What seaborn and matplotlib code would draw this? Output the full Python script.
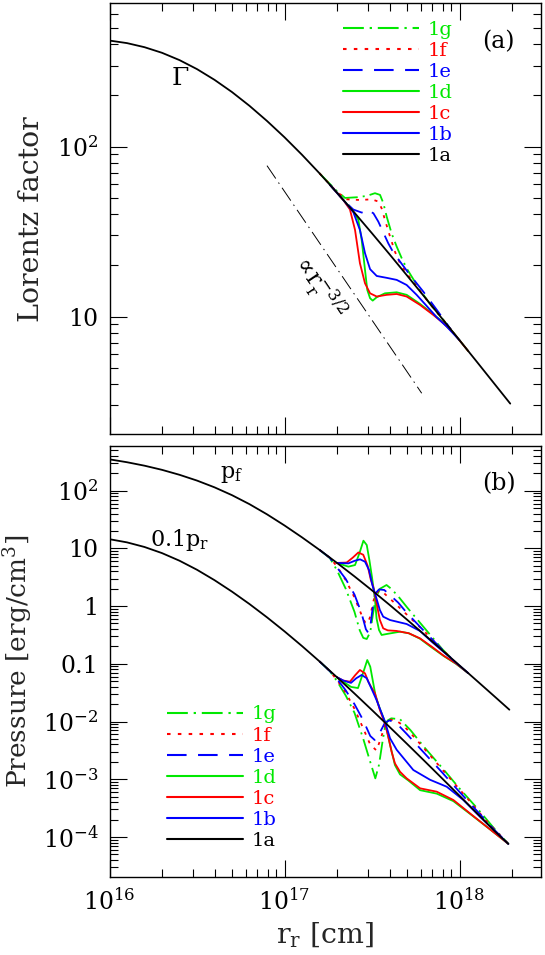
import numpy as np
import matplotlib.pyplot as plt
import seaborn as sns
from matplotlib.lines import Line2D
from matplotlib.ticker import FixedLocator, FixedFormatter, LogLocator, NullFormatter

# values, all as log10; x = log10(r_r / cm)

# (a) Lorentz factor
gam_1a_x = [16.0, 16.1, 16.2, 16.3, 16.4, 16.5, 16.6, 16.7, 16.8, 16.9, 17.0, 17.1,
            17.2, 17.3, 17.4, 17.5, 17.6, 17.7, 17.8, 17.9, 18.0, 18.1, 18.2, 18.29]
gam_1a_y = [2.624, 2.609, 2.585, 2.552, 2.509, 2.456, 2.393, 2.321, 2.24, 2.151, 2.055, 1.952,
            1.843, 1.729, 1.611, 1.49, 1.367, 1.242, 1.116, 0.989, 0.861, 0.733, 0.604, 0.488]
gam_1b_x = [17.26, 17.346, 17.393, 17.431, 17.46, 17.489, 17.527, 17.584, 17.641, 17.698,
            17.755, 17.812, 17.87, 17.927, 18.0]
gam_1b_y = [1.775, 1.674, 1.615, 1.51, 1.373, 1.279, 1.239, 1.228, 1.216, 1.186,
            1.128, 1.063, 0.996, 0.941, 0.861]
gam_1c_x = [17.26, 17.336, 17.374, 17.403, 17.431, 17.46, 17.489, 17.527, 17.584, 17.641,
            17.698, 17.774, 17.85, 17.908, 17.965, 18.05]
gam_1c_y = [1.775, 1.686, 1.63, 1.51, 1.314, 1.196, 1.137, 1.118, 1.128, 1.133,
            1.118, 1.069, 1.01, 0.961, 0.905, 0.797]
gam_1d_x = [17.26, 17.336, 17.393, 17.422, 17.441, 17.46, 17.473, 17.489, 17.504, 17.527,
            17.574, 17.641, 17.698, 17.774, 17.85, 17.908, 17.965, 18.05]
gam_1d_y = [1.775, 1.686, 1.617, 1.569, 1.451, 1.275, 1.157, 1.108, 1.094, 1.114,
            1.137, 1.143, 1.128, 1.075, 1.014, 0.965, 0.906, 0.797]
gam_1e_x = [17.26, 17.336, 17.393, 17.441, 17.479, 17.508, 17.536, 17.565, 17.593, 17.622,
            17.66, 17.717, 17.793, 17.87, 17.95]
gam_1e_y = [1.775, 1.686, 1.63, 1.612, 1.624, 1.608, 1.559, 1.494, 1.431, 1.377,
            1.324, 1.245, 1.147, 1.04, 0.925]
gam_1f_x = [17.2, 17.298, 17.355, 17.431, 17.498, 17.536, 17.555, 17.574, 17.603, 17.631,
            17.66, 17.698, 17.755, 17.831, 17.9, 17.95]
gam_1f_y = [1.843, 1.735, 1.69, 1.686, 1.69, 1.677, 1.637, 1.569, 1.471, 1.382,
            1.314, 1.255, 1.177, 1.075, 0.99, 0.925]
gam_1g_x = [17.2, 17.298, 17.346, 17.412, 17.47, 17.517, 17.546, 17.565, 17.584, 17.612,
            17.641, 17.67, 17.698, 17.727, 17.774, 17.831, 17.9, 17.95]
gam_1g_y = [1.843, 1.74, 1.698, 1.702, 1.71, 1.726, 1.716, 1.667, 1.588, 1.49,
            1.412, 1.343, 1.284, 1.235, 1.157, 1.075, 0.99, 0.925]
# r^-3/2 guide line
guide_x = [16.9, 17.784]
guide_y = [1.888, 0.549]

# (b) pressure p_f
pf_1a_x = [16.0, 16.1, 16.2, 16.3, 16.4, 16.5, 16.6, 16.7, 16.8, 16.9, 17.0, 17.1,
           17.2, 17.3, 17.4, 17.5, 17.6, 17.7, 17.8, 17.9, 18.0, 18.1, 18.2, 18.285]
pf_1a_y = [2.544, 2.494, 2.434, 2.362, 2.276, 2.176, 2.059, 1.923, 1.767, 1.591, 1.398, 1.192,
           0.975, 0.749, 0.515, 0.273, 0.023, -0.234, -0.496, -0.761, -1.028, -1.296,
           -1.565, -1.795]
pf_1b_x = [17.3, 17.365, 17.403, 17.432, 17.46, 17.483, 17.502, 17.517, 17.545, 17.564,
           17.603, 17.698, 17.774, 17.841, 17.908, 17.98, 18.05]
pf_1b_y = [0.749, 0.741, 0.788, 0.811, 0.77, 0.626, 0.366, 0.221, -0.068, -0.183,
           -0.241, -0.31, -0.43, -0.616, -0.79, -0.98, -1.162]
pf_1c_x = [17.3, 17.355, 17.39, 17.422, 17.45, 17.475, 17.493, 17.507, 17.526, 17.545,
           17.564, 17.59, 17.64, 17.71, 17.774, 17.84, 17.91, 17.98, 18.05]
pf_1c_y = [0.749, 0.755, 0.84, 0.93, 0.89, 0.70, 0.46, 0.337, 0.05, -0.24,
           -0.385, -0.42, -0.43, -0.47, -0.558, -0.70, -0.86, -0.995, -1.162]
pf_1d_x = [17.3, 17.365, 17.403, 17.428, 17.451, 17.47, 17.485, 17.5, 17.517, 17.526,
           17.54, 17.555, 17.584, 17.66, 17.71, 17.774, 17.84, 17.91, 17.98, 18.05]
pf_1d_y = [0.749, 0.684, 0.712, 0.915, 1.134, 1.059, 0.799, 0.50, 0.12, -0.212,
           -0.414, -0.5, -0.483, -0.443, -0.47, -0.564, -0.714, -0.865, -1.0, -1.162]
pf_1e_x = [17.2, 17.26, 17.3, 17.35, 17.4, 17.44, 17.465, 17.478, 17.49, 17.5,
           17.517, 17.54, 17.57, 17.6, 17.65, 17.7, 17.8, 17.9, 17.95]
pf_1e_y = [0.975, 0.835, 0.67, 0.47, 0.20, -0.12, -0.40, -0.46, -0.36, -0.12,
           0.21, 0.29, 0.28, 0.2, 0.06, -0.12, -0.44, -0.75, -0.894]
pf_1f_x = [17.2, 17.26, 17.3, 17.35, 17.4, 17.44, 17.46, 17.475, 17.49, 17.505,
           17.52, 17.545, 17.57, 17.62, 17.7, 17.8, 17.9, 17.95]
pf_1f_y = [0.975, 0.835, 0.69, 0.45, 0.15, -0.15, -0.28, -0.30, -0.18, 0.05,
           0.22, 0.27, 0.22, 0.08, -0.15, -0.44, -0.75, -0.894]
pf_1g_x = [17.2, 17.26, 17.3, 17.35, 17.4, 17.43, 17.45, 17.47, 17.49, 17.505, 17.52,
           17.545, 17.583, 17.61, 17.65, 17.7, 17.75, 17.8, 17.85, 17.9, 17.95]
pf_1g_y = [0.975, 0.83, 0.62, 0.30, -0.10, -0.42, -0.55, -0.57, -0.45, -0.15, 0.12,
           0.30, 0.366, 0.30, 0.17, -0.02, -0.2, -0.38, -0.56, -0.74, -0.894]

# (b) pressure 0.1 p_r
pr_1a_x = [16.0, 16.1, 16.2, 16.3, 16.4, 16.5, 16.6, 16.7, 16.8, 16.9, 17.0, 17.1,
           17.2, 17.3, 17.4, 17.5, 17.6, 17.7, 17.8, 17.9, 18.0, 18.1, 18.2, 18.279]
pr_1a_y = [1.16, 1.105, 1.025, 0.919, 0.787, 0.63, 0.45, 0.251, 0.036, -0.194, -0.437, -0.692,
           -0.958, -1.233, -1.515, -1.802, -2.093, -2.387, -2.684, -2.984, -3.286, -3.59,
           -3.895, -4.12]
pr_1b_x = [17.3, 17.336, 17.38, 17.41, 17.441, 17.47, 17.5, 17.526, 17.574, 17.603,
           17.641, 17.698, 17.736, 17.832, 17.927, 18.022, 18.117, 18.213, 18.279]
pr_1b_y = [-1.233, -1.29, -1.33, -1.25, -1.193, -1.25, -1.45, -1.628, -2.003, -2.29,
           -2.49, -2.70, -2.84, -3.01, -3.13, -3.36, -3.65, -3.93, -4.12]
pr_1c_x = [17.3, 17.336, 17.374, 17.403, 17.431, 17.46, 17.479, 17.495, 17.517, 17.545,
           17.574, 17.593, 17.612, 17.631, 17.66, 17.698, 17.775, 17.87, 17.965, 18.06,
           18.175, 18.279]
pr_1c_y = [-1.233, -1.29, -1.31, -1.20, -1.107, -1.165, -1.31, -1.40, -1.512, -1.801,
           -2.032, -2.263, -2.523, -2.725, -2.87, -2.985, -3.158, -3.216, -3.36, -3.592,
           -3.87, -4.12]
pr_1d_x = [17.3, 17.336, 17.38, 17.42, 17.45, 17.473, 17.49, 17.505, 17.52, 17.545,
           17.574, 17.603, 17.631, 17.66, 17.707, 17.775, 17.87, 17.965, 18.06, 18.175, 18.279]
pr_1d_y = [-1.233, -1.31, -1.40, -1.42, -1.15, -0.934, -1.05, -1.30, -1.55, -1.78,
           -2.003, -2.40, -2.754, -2.916, -3.02, -3.19, -3.25, -3.38, -3.60, -3.87, -4.12]
pr_1e_x = [17.2, 17.26, 17.3, 17.35, 17.4, 17.45, 17.49, 17.515, 17.54, 17.574,
           17.6, 17.64, 17.7, 17.8, 17.9, 18.0, 18.1, 18.2, 18.279]
pr_1e_y = [-0.958, -1.13, -1.26, -1.46, -1.70, -1.98, -2.25, -2.32, -2.22, -2.02,
           -1.98, -2.03, -2.22, -2.55, -2.88, -3.22, -3.55, -3.88, -4.12]
pr_1f_x = [17.2, 17.26, 17.3, 17.35, 17.4, 17.45, 17.49, 17.525, 17.55, 17.574,
           17.6, 17.63, 17.68, 17.75, 17.85, 17.95, 18.05, 18.15, 18.279]
pr_1f_y = [-0.958, -1.13, -1.28, -1.50, -1.78, -2.12, -2.40, -2.50, -2.3, -2.05,
           -1.97, -1.97, -2.07, -2.30, -2.65, -3.0, -3.35, -3.71, -4.12]
pr_1g_x = [17.2, 17.26, 17.3, 17.35, 17.4, 17.45, 17.49, 17.519, 17.54, 17.56, 17.574,
           17.59, 17.61, 17.66, 17.72, 17.8, 17.9, 18.0, 18.1, 18.2, 18.279]
pr_1g_y = [-0.958, -1.13, -1.30, -1.55, -1.85, -2.3, -2.7, -2.985, -2.75, -2.35, -2.1,
           -1.98, -1.945, -1.96, -2.15, -2.45, -2.8, -3.16, -3.5, -3.86, -4.12]

models = ["1a", "1b", "1c", "1d", "1e", "1f", "1g"]
GREEN, RED, BLUE = "#00e800", "#ff0000", "#0000ff"
colors = {"1a": "black", "1b": BLUE, "1c": RED, "1d": GREEN,
          "1e": BLUE, "1f": RED, "1g": GREEN}
styles = {"1a": "-", "1b": "-", "1c": "-", "1d": "-",
          "1e": (0, (9.4, 5.5)), "1f": (0, (1.7, 3.5)), "1g": (0, (10, 2.8, 1.1, 2.8))}

gamma = {"1a": (gam_1a_x, gam_1a_y), "1b": (gam_1b_x, gam_1b_y), "1c": (gam_1c_x, gam_1c_y),
         "1d": (gam_1d_x, gam_1d_y), "1e": (gam_1e_x, gam_1e_y), "1f": (gam_1f_x, gam_1f_y),
         "1g": (gam_1g_x, gam_1g_y)}
p_f = {"1a": (pf_1a_x, pf_1a_y), "1b": (pf_1b_x, pf_1b_y), "1c": (pf_1c_x, pf_1c_y),
       "1d": (pf_1d_x, pf_1d_y), "1e": (pf_1e_x, pf_1e_y), "1f": (pf_1f_x, pf_1f_y),
       "1g": (pf_1g_x, pf_1g_y)}
p_r = {"1a": (pr_1a_x, pr_1a_y), "1b": (pr_1b_x, pr_1b_y), "1c": (pr_1c_x, pr_1c_y),
       "1d": (pr_1d_x, pr_1d_y), "1e": (pr_1e_x, pr_1e_y), "1f": (pr_1f_x, pr_1f_y),
       "1g": (pr_1g_x, pr_1g_y)}

sns.set_style("ticks", rc={"axes.edgecolor": "black", "text.color": "black",
                           "xtick.color": "black", "ytick.color": "black"})
plt.rcParams["font.family"] = ["DejaVu Serif"]
plt.rcParams["mathtext.fontset"] = "dejavuserif"

LW = 1.3


def draw(ax, curves):
    # colored runs first, the black reference run on top
    for m in models[::-1]:
        lx, ly = curves[m]
        sns.lineplot(x=10 ** np.array(lx), y=10 ** np.array(ly), ax=ax, color=colors[m],
                     linestyle=styles[m], lw=LW, zorder=3 if m == "1a" else 2)


def exp_label(v):
    e = int(round(np.log10(v)))
    special = {0: "1", 1: "10", -1: "0.1"}
    return special.get(e, r"$\mathdefault{10^{%d}}$" % e)


def style_axes(ax, ymajor):
    ax.set_xscale("log")
    ax.set_yscale("log")
    ax.set_xlim(1e16, 10 ** 18.464)
    ax.xaxis.set_major_locator(FixedLocator([1e16, 1e17, 1e18]))
    ax.xaxis.set_minor_locator(LogLocator(base=10, subs=np.arange(2, 10), numticks=100))
    ax.yaxis.set_major_locator(FixedLocator(ymajor))
    ax.yaxis.set_major_formatter(FixedFormatter([exp_label(v) for v in ymajor]))
    ax.yaxis.set_minor_locator(LogLocator(base=10, subs=np.arange(2, 10), numticks=100))
    ax.yaxis.set_minor_formatter(NullFormatter())
    ax.xaxis.set_minor_formatter(NullFormatter())
    ax.tick_params(which="both", direction="in", top=True, right=True, width=0.8,
                   colors="black", labelsize=17)
    ax.tick_params(which="major", length=12, pad=8)
    ax.tick_params(which="minor", length=6)
    for s in ax.spines.values():
        s.set_linewidth(1.0)
        s.set_color("black")


W, H = 545, 955
fig = plt.figure(figsize=(W / 100, H / 100), dpi=100)
ax_a = fig.add_axes([109.5 / W, 1 - 434.3 / H, 431.2 / W, 431.0 / H])
ax_b = fig.add_axes([109.5 / W, 1 - 877 / H, 431.2 / W, 431.0 / H])

for ax in (ax_a, ax_b):
    ax.set_xscale("log")
    ax.set_yscale("log")

# panel (a)
draw(ax_a, gamma)
sns.lineplot(x=10 ** np.array(guide_x), y=10 ** np.array(guide_y), ax=ax_a, color="black",
             lw=0.7, linestyle=(0, (16, 5, 1.5, 5)))
style_axes(ax_a, [10, 100])
ax_a.set_ylim(2.03, 697)
ax_a.set_xticklabels([])
ax_a.set_xlabel("")
ax_a.set_ylabel("Lorentz factor", fontsize=20.5)
ax_a.yaxis.set_label_coords(-0.15, 0.5)
ax_a.text(10 ** 16.403, 10 ** 2.402, "Γ", fontsize=18, ha="center", va="center")
ax_a.text(10 ** 17.19, 10 ** 1.18, r"$\propto\!\mathdefault{r_r^{-3/2}}$", fontsize=17,
          rotation=-56, ha="center", va="center", rotation_mode="anchor")
ax_a.text(0.901, 0.911, "(a)", transform=ax_a.transAxes, fontsize=17, ha="center", va="center")

# panel (b)
draw(ax_b, p_f)
draw(ax_b, p_r)
style_axes(ax_b, [1e-4, 1e-3, 1e-2, 0.1, 1, 10, 100])
ax_b.set_ylim(2.02e-5, 596)
ax_b.xaxis.set_major_formatter(FixedFormatter([exp_label(v) for v in [1e16, 1e17, 1e18]]))
ax_b.set_ylabel("Pressure [erg/cm$^\\mathdefault{3}$]", fontsize=19)
ax_b.yaxis.set_label_coords(-0.172, 0.5)
ax_b.set_xlabel(r"r$_\mathdefault{r}$ [cm]", fontsize=20.5)
ax_b.xaxis.set_label_coords(0.5, -0.1)
ax_b.text(10 ** 16.7, 10 ** 2.289, r"p$_\mathdefault{f}$", fontsize=16, ha="center", va="center")
ax_b.text(10 ** 16.403, 10 ** 1.146, r"0.1p$_\mathdefault{r}$", fontsize=16,
          ha="center", va="center")
ax_b.text(0.903, 0.913, "(b)", transform=ax_b.transAxes, fontsize=17, ha="center", va="center")

# legends, 1g on top
order = models[::-1]
handles = [Line2D([], [], color=colors[m], linestyle=styles[m], lw=1.5) for m in order]
leg_kw = dict(frameon=False, fontsize=14, handlelength=3.9, handletextpad=0.45,
              labelspacing=0.16, borderpad=0, borderaxespad=0, labelcolor="linecolor",
              loc="upper left")
ax_a.legend(handles, order, bbox_to_anchor=(0.541, 0.960), **leg_kw)
ax_b.legend(handles, order, bbox_to_anchor=(0.1345, 0.398), **leg_kw)

fig.savefig("out.png", dpi=100)
